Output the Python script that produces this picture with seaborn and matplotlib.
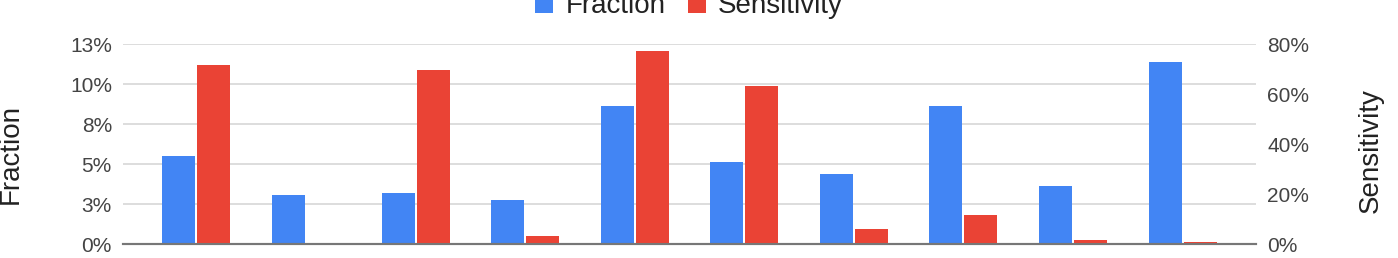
import pandas as pd
import matplotlib
matplotlib.use("Agg")
import matplotlib.pyplot as plt
from matplotlib.patches import Patch
from matplotlib.ticker import FuncFormatter, FixedLocator
import seaborn as sns

# values
groups = ["G1", "G2", "G3", "G4", "G5", "G6", "G7", "G8", "G9", "G10"]
fraction = [5.5, 3.07, 3.18, 2.74, 8.61, 5.12, 4.35, 8.61, 3.62, 11.39]
sensitivity = [71.7, 0.3, 69.6, 3.1, 77.3, 63.1, 6.0, 11.8, 1.5, 0.9]
series = ["Fraction", "Sensitivity"]
colors = {"Fraction": "#4285F4", "Sensitivity": "#EA4335"}
left_ticks = [0, 2.5, 5, 7.5, 10, 12.5]
right_ticks = [0, 20, 40, 60, 80]

df = pd.concat([
    pd.DataFrame({"group": groups, "value": fraction, "series": "Fraction"}),
    pd.DataFrame({"group": groups, "value": sensitivity, "series": "Sensitivity"}),
], ignore_index=True)

sns.set_style("white")
plt.rcParams["font.family"] = ["Liberation Sans", "DejaVu Sans"]

fig = plt.figure(figsize=(13.98, 2.58), dpi=100)
ax = fig.add_axes([123 / 1398, 1 - 244 / 258, 1133 / 1398, 200 / 258])
ax2 = ax.twinx()

common = dict(data=df, x="group", y="value", hue="series", hue_order=series,
              order=groups, palette=colors, width=0.64, gap=0.06, errorbar=None,
              legend=False, saturation=1, linewidth=0)
# both axes get the dodged pair; each keeps only the series on its own scale
sns.barplot(ax=ax, **common)
for bar in list(ax.containers[1]):
    bar.remove()
sns.barplot(ax=ax2, **common)
for bar in list(ax2.containers[0]):
    bar.remove()

ax.set_ylim(0, 12.5)
ax2.set_ylim(0, 80)
ax.set_xlim(-0.67, 9.67)

pct = FuncFormatter(lambda v, p: f"{int(v + 0.5)}%")
ax.yaxis.set_major_locator(FixedLocator(left_ticks))
ax.yaxis.set_major_formatter(pct)
ax2.yaxis.set_major_locator(FixedLocator(right_ticks))
ax2.yaxis.set_major_formatter(pct)

ax.set_axisbelow(True)
ax.yaxis.grid(True, color="#dadada", linewidth=1.3)
ax.xaxis.grid(False)
ax2.grid(False)

for a in (ax, ax2):
    for s in ("top", "left", "right"):
        a.spines[s].set_visible(False)
    a.spines["bottom"].set_color("#777777")
    a.spines["bottom"].set_linewidth(1.5)
    a.tick_params(axis="y", length=0, pad=8, labelsize=15, labelcolor="#444444")
    a.tick_params(axis="x", length=0, labelbottom=False)
    a.set_xlabel("")

ax.set_ylabel("Fraction", fontsize=20, color="#222222")
ax.yaxis.set_label_coords(-0.088, 0.45)
ax2.set_ylabel("Sensitivity", fontsize=20, color="#222222")
ax2.yaxis.set_label_coords(1.09, 0.465)

handles = [Patch(facecolor=colors[s], edgecolor="none", label=s) for s in series]
fig.legend(handles=handles, loc="center", bbox_to_anchor=(0.493, 0.976), ncol=2,
           frameon=False, fontsize=20, handlelength=0.65, handleheight=0.65,
           handletextpad=0.43, columnspacing=0.82, borderpad=0, labelcolor="#222222")

fig.savefig("out.png", dpi=100)
